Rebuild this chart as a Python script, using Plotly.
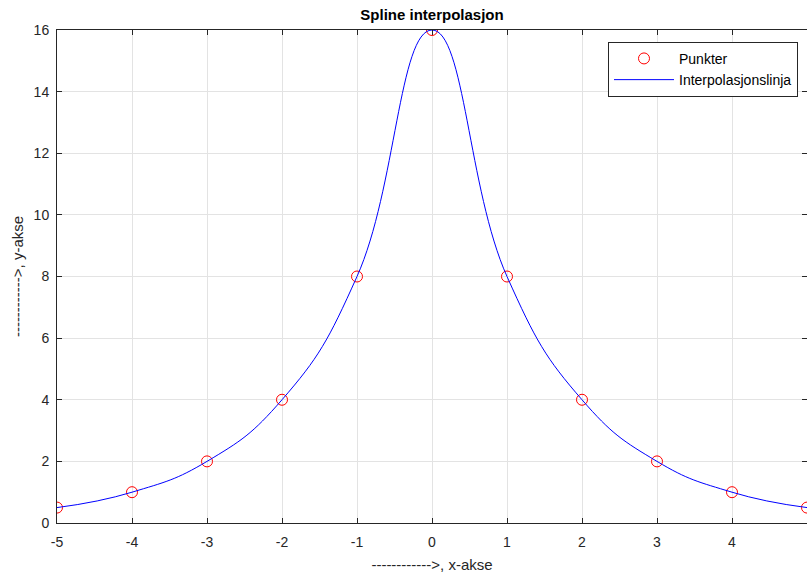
import plotly.graph_objects as go

x_pts = [-5, -4, -3, -2, -1, 0, 1, 2, 3, 4, 5]
y_pts = [0.5, 1, 2, 4, 8, 16, 8, 4, 2, 1, 0.5]

x_ticks = [-5, -4, -3, -2, -1, 0, 1, 2, 3, 4, 5]
x_ticklabels = ["-5", "-4", "-3", "-2", "-1", "0", "1", "2", "3", "4", "5"]
y_ticks = [0, 2, 4, 6, 8, 10, 12, 14, 16]

title = "Spline interpolasjon"
xlabel = "------------>, x-akse"
ylabel = "------------>, y-akse"

FONT = "Liberation Sans, Arial"

fig = go.Figure()
fig.add_trace(go.Scatter(
    x=x_pts, y=y_pts, mode="markers", name="Punkter",
    marker=dict(symbol="circle-open", size=11, color="#ff0000", line=dict(width=1, color="#ff0000")),
))
fig.add_trace(go.Scatter(
    x=x_pts, y=y_pts, mode="lines", name="Interpolasjonslinja",
    line=dict(color="#0000ff", width=1, shape="spline", smoothing=1.3),
))

axis_common = dict(
    showgrid=True, gridcolor="#e3e3e3", gridwidth=1,
    showline=True, linecolor="#262626", linewidth=1, mirror="ticks",
    ticks="inside", ticklen=5, tickcolor="#262626",
    tickfont=dict(family=FONT, size=14, color="#262626"),
    zeroline=False,
)

fig.update_layout(
    width=807, height=574,
    margin=dict(l=57, r=0, t=30, b=51),
    paper_bgcolor="white", plot_bgcolor="white",
    title=dict(text="<b>" + title + "</b>", x=(57 + 375) / 807, xanchor="center",
               y=1 - 15 / 574, yanchor="middle",
               font=dict(family=FONT, size=15, color="black")),
    xaxis=dict(range=[-5, 5], tickvals=x_ticks, ticktext=x_ticklabels,
               ticklabelstandoff=6,
               title=dict(text=xlabel, standoff=10,
                          font=dict(family=FONT, size=15, color="#262626")),
               **axis_common),
    yaxis=dict(range=[0, 16], tickvals=y_ticks,
               ticklabelstandoff=4,
               title=dict(text=ylabel, standoff=6,
                          font=dict(family=FONT, size=15, color="#262626")),
               **axis_common),
    legend=dict(x=0.988, xanchor="right", y=0.976, yanchor="top",
                bgcolor="white", bordercolor="#262626", borderwidth=1,
                itemwidth=60,
                font=dict(family=FONT, size=14, color="black"),
                tracegroupgap=0),
    showlegend=True,
)

fig.write_html("out.html")
